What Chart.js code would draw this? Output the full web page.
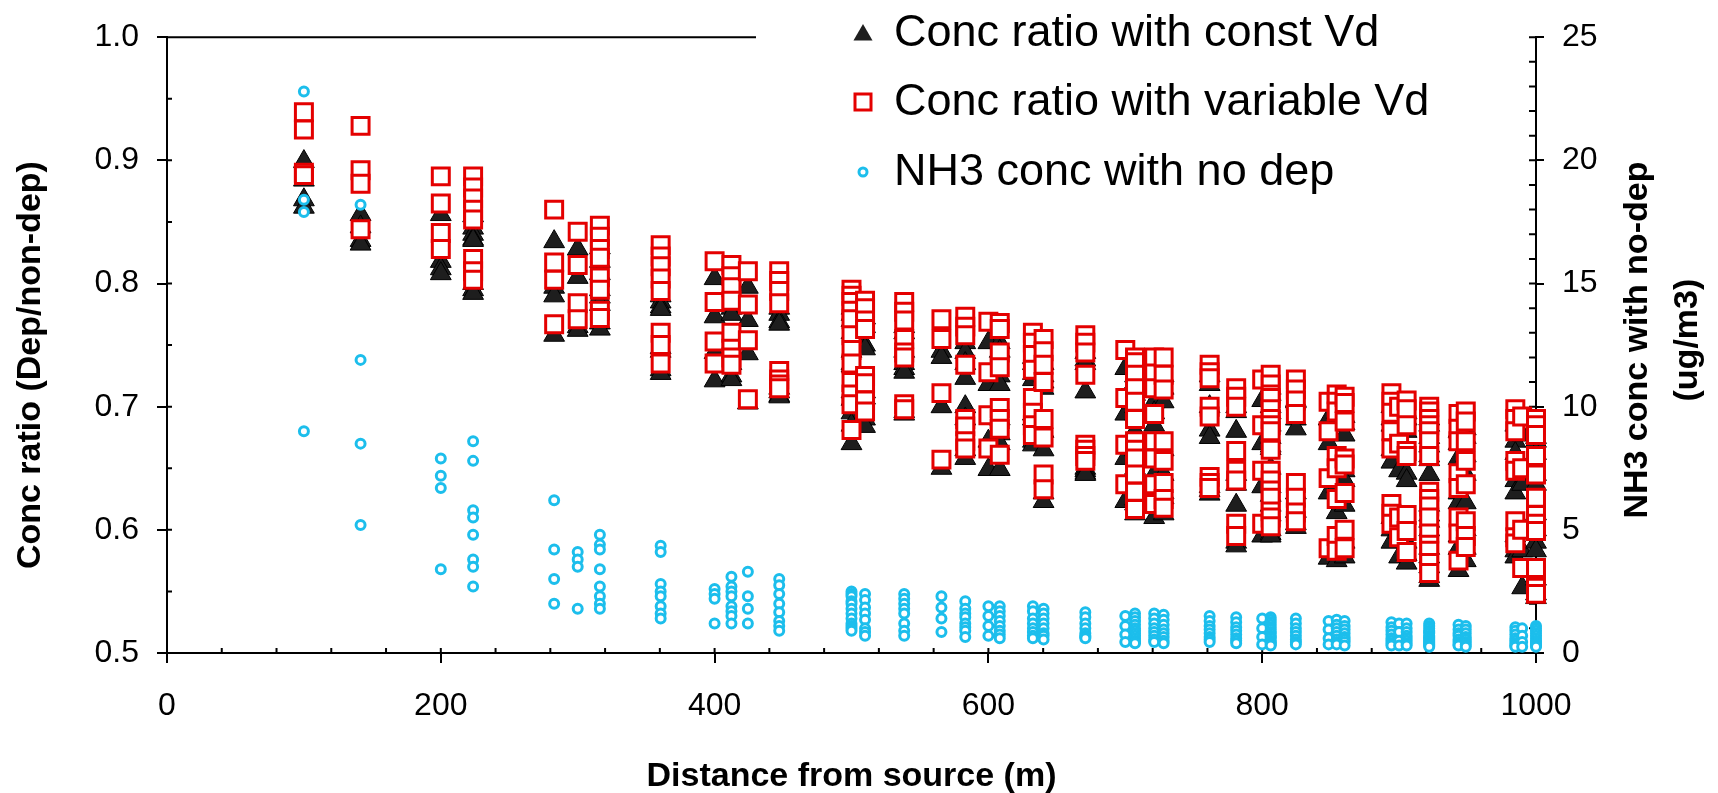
<!DOCTYPE html>
<html>
<head>
<meta charset="utf-8">
<script src="https://cdn.jsdelivr.net/npm/chart.js@4.4.1/dist/chart.umd.min.js"></script>
<style>
  html, body { margin: 0; padding: 0; background: #fff; }
  #wrap { width: 1718px; height: 793px; }
</style>
</head>
<body>
<div id="wrap"><canvas id="myChart" width="1718" height="793"></canvas></div>
<script>
// receptor distances (m), one entry per column of markers
const distances = [100, 141.4, 200, 223.6, 282.8, 300, 316.2, 360.6, 400, 412.3, 424.3, 447.2, 500, 509.9, 538.5, 565.7, 583.1, 600, 608.3, 632.5, 640.3, 670.8, 700, 707.1, 721.1, 728.0, 761.6, 781.0, 800, 806.2, 824.6, 848.5, 854.4, 860.2, 894.4, 900, 905.5, 922.0, 943.4, 948.7, 984.9, 989.9, 1000];

// Conc ratio with const Vd (left axis)
const constVdRatio = [
  [0.899, 0.884, 0.868, 0.862],
  [0.856, 0.846, 0.835, 0.832],
  [0.856, 0.818, 0.812, 0.808],
  [0.855, 0.845, 0.840, 0.836, 0.835, 0.800, 0.795, 0.792],
  [0.834, 0.797, 0.790, 0.758],
  [0.828, 0.805, 0.765, 0.762],
  [0.829, 0.818, 0.808, 0.795, 0.789, 0.783, 0.768, 0.763],
  [0.790, 0.785, 0.781, 0.779, 0.748, 0.745, 0.730, 0.727],
  [0.804, 0.773, 0.744, 0.721],
  [0.790, 0.782, 0.780, 0.775, 0.748, 0.735, 0.725, 0.722],
  [0.797, 0.770, 0.743, 0.703],
  [0.780, 0.775, 0.769, 0.767, 0.715, 0.712, 0.709, 0.708],
  [0.780, 0.775, 0.770, 0.760, 0.745, 0.735, 0.733, 0.712, 0.706, 0.695, 0.685, 0.670],
  [0.772, 0.765, 0.750, 0.747, 0.712, 0.707, 0.690, 0.684],
  [0.765, 0.760, 0.745, 0.735, 0.731, 0.728, 0.696, 0.694],
  [0.745, 0.740, 0.700, 0.650],
  [0.752, 0.744, 0.735, 0.723, 0.700, 0.690, 0.665, 0.658],
  [0.752, 0.718, 0.672, 0.649],
  [0.752, 0.745, 0.725, 0.718, 0.690, 0.678, 0.670, 0.649],
  [0.740, 0.735, 0.727, 0.722, 0.694, 0.690, 0.672, 0.669],
  [0.735, 0.725, 0.720, 0.715, 0.680, 0.665, 0.630, 0.623],
  [0.744, 0.738, 0.735, 0.712, 0.650, 0.648, 0.646, 0.645],
  [0.731, 0.694, 0.658, 0.623],
  [0.725, 0.720, 0.710, 0.700, 0.694, 0.680, 0.665, 0.650, 0.640, 0.625, 0.621, 0.613],
  [0.720, 0.704, 0.695, 0.685, 0.660, 0.645, 0.623, 0.610],
  [0.725, 0.715, 0.704, 0.665, 0.645, 0.630, 0.626, 0.613],
  [0.725, 0.718, 0.700, 0.681, 0.675, 0.635, 0.632, 0.629],
  [0.700, 0.696, 0.680, 0.645, 0.637, 0.620, 0.590, 0.587],
  [0.705, 0.670, 0.635, 0.595],
  [0.715, 0.710, 0.700, 0.695, 0.685, 0.675, 0.668, 0.666, 0.650, 0.635, 0.628, 0.620, 0.612, 0.600, 0.597, 0.595],
  [0.705, 0.704, 0.690, 0.682, 0.630, 0.615, 0.605, 0.602],
  [0.690, 0.670, 0.630, 0.577],
  [0.695, 0.688, 0.685, 0.645, 0.635, 0.614, 0.585, 0.575],
  [0.692, 0.686, 0.677, 0.648, 0.640, 0.620, 0.590, 0.578],
  [0.700, 0.690, 0.685, 0.665, 0.655, 0.610, 0.600, 0.590],
  [0.690, 0.648, 0.598, 0.578],
  [0.695, 0.690, 0.680, 0.646, 0.640, 0.590, 0.580, 0.573],
  [0.690, 0.685, 0.675, 0.668, 0.660, 0.657, 0.645, 0.620, 0.612, 0.607, 0.600, 0.585, 0.578, 0.570, 0.562, 0.559],
  [0.680, 0.670, 0.658, 0.630, 0.622, 0.595, 0.585, 0.567],
  [0.682, 0.675, 0.660, 0.645, 0.622, 0.600, 0.585, 0.575],
  [0.685, 0.672, 0.662, 0.640, 0.630, 0.595, 0.583, 0.578],
  [0.677, 0.637, 0.583, 0.553],
  [0.675, 0.672, 0.662, 0.645, 0.637, 0.613, 0.600, 0.590, 0.583, 0.560, 0.548, 0.545]
];

// Conc ratio with variable Vd (left axis)
const variableVdRatio = [
  [0.939, 0.925, 0.890, 0.888],
  [0.928, 0.892, 0.881, 0.844],
  [0.887, 0.865, 0.841, 0.828],
  [0.887, 0.878, 0.869, 0.860, 0.852, 0.820, 0.810, 0.803],
  [0.860, 0.817, 0.803, 0.767],
  [0.842, 0.815, 0.784, 0.771],
  [0.847, 0.838, 0.828, 0.821, 0.805, 0.795, 0.778, 0.772],
  [0.831, 0.822, 0.814, 0.804, 0.794, 0.760, 0.750, 0.735],
  [0.818, 0.785, 0.753, 0.735],
  [0.815, 0.806, 0.797, 0.786, 0.760, 0.747, 0.740, 0.734],
  [0.810, 0.783, 0.754, 0.706],
  [0.810, 0.802, 0.794, 0.784, 0.729, 0.722, 0.718, 0.715],
  [0.795, 0.790, 0.785, 0.778, 0.771, 0.758, 0.746, 0.735, 0.720, 0.710, 0.702, 0.681],
  [0.786, 0.780, 0.770, 0.763, 0.725, 0.719, 0.705, 0.696],
  [0.785, 0.777, 0.770, 0.755, 0.744, 0.740, 0.702, 0.698],
  [0.771, 0.755, 0.711, 0.657],
  [0.773, 0.765, 0.758, 0.734, 0.690, 0.684, 0.672, 0.666],
  [0.769, 0.728, 0.693, 0.666],
  [0.768, 0.763, 0.744, 0.732, 0.699, 0.690, 0.682, 0.661],
  [0.760, 0.752, 0.742, 0.730, 0.707, 0.695, 0.685, 0.677],
  [0.755, 0.745, 0.734, 0.720, 0.690, 0.675, 0.645, 0.633],
  [0.758, 0.752, 0.744, 0.726, 0.669, 0.665, 0.660, 0.656],
  [0.746, 0.707, 0.669, 0.637],
  [0.740, 0.736, 0.726, 0.715, 0.704, 0.690, 0.672, 0.665, 0.658, 0.645, 0.631, 0.617],
  [0.740, 0.727, 0.715, 0.694, 0.672, 0.658, 0.637, 0.621],
  [0.740, 0.726, 0.714, 0.672, 0.656, 0.638, 0.625, 0.618],
  [0.734, 0.728, 0.723, 0.700, 0.692, 0.643, 0.638, 0.634],
  [0.715, 0.708, 0.700, 0.664, 0.648, 0.640, 0.605, 0.595],
  [0.722, 0.685, 0.648, 0.605],
  [0.726, 0.718, 0.710, 0.707, 0.698, 0.690, 0.685, 0.680, 0.665, 0.648, 0.640, 0.632, 0.626, 0.615, 0.610, 0.603],
  [0.722, 0.714, 0.705, 0.694, 0.638, 0.626, 0.614, 0.607],
  [0.704, 0.680, 0.642, 0.585],
  [0.710, 0.704, 0.696, 0.660, 0.650, 0.625, 0.595, 0.583],
  [0.708, 0.703, 0.688, 0.658, 0.653, 0.630, 0.600, 0.585],
  [0.711, 0.704, 0.695, 0.680, 0.666, 0.621, 0.613, 0.605],
  [0.700, 0.670, 0.610, 0.594],
  [0.705, 0.698, 0.685, 0.664, 0.660, 0.612, 0.599, 0.582],
  [0.700, 0.696, 0.690, 0.685, 0.680, 0.672, 0.660, 0.631, 0.625, 0.619, 0.610, 0.597, 0.588, 0.583, 0.573, 0.565],
  [0.694, 0.682, 0.672, 0.646, 0.634, 0.610, 0.597, 0.575],
  [0.696, 0.688, 0.672, 0.656, 0.637, 0.607, 0.595, 0.586],
  [0.698, 0.690, 0.680, 0.656, 0.648, 0.607, 0.594, 0.589],
  [0.692, 0.650, 0.600, 0.569],
  [0.690, 0.685, 0.677, 0.660, 0.645, 0.626, 0.612, 0.605, 0.599, 0.569, 0.553, 0.548]
];

// NH3 conc with no dep, ug/m3 (right axis)
const nh3NoDep = [
  [22.8, 18.4, 17.9, 9.0],
  [18.2, 11.9, 8.5, 5.2],
  [7.9, 7.2, 6.7, 3.4],
  [8.6, 7.8, 5.8, 5.5, 4.8, 3.8, 3.5, 2.7],
  [6.2, 4.2, 3.0, 2.0],
  [4.1, 3.8, 3.5, 1.8],
  [4.8, 4.4, 4.2, 3.4, 2.7, 2.3, 2.0, 1.8],
  [4.35, 4.1, 2.8, 2.5, 2.3, 1.9, 1.6, 1.4],
  [2.6, 2.4, 2.2, 1.2],
  [3.1, 2.7, 2.5, 2.3, 1.9, 1.7, 1.5, 1.2],
  [3.3, 2.3, 1.8, 1.2],
  [3.0, 2.75, 2.4, 2.0, 1.65, 1.3, 1.1, 0.9],
  [2.5, 2.4, 2.3, 2.1, 2.0, 1.8, 1.6, 1.4, 1.2, 1.1, 1.0, 0.9],
  [2.4, 2.15, 1.85, 1.6, 1.35, 1.0, 0.85, 0.7],
  [2.4, 2.2, 2.0, 1.8, 1.6, 1.2, 0.9, 0.7],
  [2.3, 1.85, 1.4, 0.85],
  [2.1, 1.8, 1.6, 1.45, 1.2, 1.05, 0.9, 0.65],
  [1.9, 1.5, 1.1, 0.7],
  [1.9, 1.7, 1.5, 1.3, 1.1, 0.9, 0.75, 0.6],
  [1.9, 1.7, 1.4, 1.2, 1.0, 0.85, 0.7, 0.6],
  [1.8, 1.6, 1.4, 1.2, 1.0, 0.8, 0.7, 0.55],
  [1.65, 1.45, 1.2, 1.0, 0.8, 0.7, 0.65, 0.6],
  [1.5, 1.1, 0.75, 0.45],
  [1.6, 1.45, 1.3, 1.15, 1.0, 0.9, 0.8, 0.7, 0.6, 0.5, 0.45, 0.4],
  [1.6, 1.4, 1.2, 1.0, 0.85, 0.7, 0.55, 0.45],
  [1.55, 1.35, 1.15, 0.95, 0.8, 0.65, 0.5, 0.4],
  [1.5, 1.3, 1.1, 0.95, 0.8, 0.65, 0.55, 0.45],
  [1.45, 1.25, 1.05, 0.9, 0.75, 0.6, 0.5, 0.4],
  [1.4, 1.0, 0.65, 0.35],
  [1.45, 1.35, 1.25, 1.15, 1.05, 0.95, 0.85, 0.8, 0.7, 0.65, 0.6, 0.5, 0.45, 0.4, 0.35, 0.3],
  [1.4, 1.2, 1.0, 0.85, 0.7, 0.55, 0.45, 0.35],
  [1.3, 0.95, 0.6, 0.35],
  [1.35, 1.15, 1.0, 0.85, 0.7, 0.55, 0.45, 0.35],
  [1.3, 1.1, 0.95, 0.8, 0.65, 0.55, 0.45, 0.3],
  [1.25, 1.05, 0.9, 0.75, 0.6, 0.5, 0.4, 0.3],
  [1.2, 0.85, 0.5, 0.3],
  [1.2, 1.0, 0.85, 0.7, 0.6, 0.5, 0.4, 0.3],
  [1.2, 1.1, 1.0, 0.9, 0.85, 0.8, 0.7, 0.65, 0.6, 0.55, 0.5, 0.45, 0.4, 0.35, 0.3, 0.25],
  [1.15, 0.95, 0.8, 0.7, 0.55, 0.45, 0.35, 0.3],
  [1.1, 0.95, 0.8, 0.65, 0.55, 0.45, 0.35, 0.25],
  [1.05, 0.9, 0.75, 0.6, 0.5, 0.4, 0.3, 0.25],
  [1.0, 0.7, 0.45, 0.25],
  [1.1, 1.0, 0.9, 0.8, 0.7, 0.6, 0.5, 0.45, 0.4, 0.35, 0.3, 0.25]
];

const seriesNames = ["Conc ratio with const Vd", "Conc ratio with variable Vd", "NH3 conc with no dep"];

const FONT = "'Liberation Sans', Arial, sans-serif";
const BLACK = "#1e1e1e";
const RED = "rgb(228, 0, 0)";
const CYAN = "rgb(28, 190, 236)";

function toPoints(cols) {
  const pts = [];
  distances.forEach((d, i) => {
    cols[i].forEach((v) => pts.push({ x: d, y: v }));
  });
  return pts;
}

// small marker shapes for the legend
function drawTriangle(ctx, x, y, r) {
  ctx.beginPath();
  ctx.moveTo(x, y - r);
  ctx.lineTo(x + r * 0.866, y + r / 2);
  ctx.lineTo(x - r * 0.866, y + r / 2);
  ctx.closePath();
  ctx.fillStyle = BLACK;
  ctx.fill();
}
function drawSquare(ctx, x, y, s) {
  ctx.fillStyle = "#fff";
  ctx.fillRect(x - s / 2, y - s / 2, s, s);
  ctx.strokeStyle = RED;
  ctx.lineWidth = 3;
  ctx.strokeRect(x - s / 2, y - s / 2, s, s);
}
function drawCircle(ctx, x, y, r) {
  ctx.beginPath();
  ctx.arc(x, y, r, 0, Math.PI * 2);
  ctx.fillStyle = "#fff";
  ctx.fill();
  ctx.strokeStyle = CYAN;
  ctx.lineWidth = 3;
  ctx.stroke();
}

const extras = {
  id: "extras",
  beforeDatasetsDraw(chart) {
    const ctx = chart.ctx;
    const { x, y, y2 } = chart.scales;
    const a = chart.chartArea;
    ctx.save();
    ctx.strokeStyle = "#000";
    ctx.lineWidth = 2;
    ctx.beginPath();
    // top frame line stops where the legend starts
    ctx.moveTo(a.left, a.top);
    ctx.lineTo(756, a.top);
    // inside ticks
    for (let v = 0; v <= 1000; v += 40) {
      const px = x.getPixelForValue(v);
      ctx.moveTo(px, a.bottom);
      ctx.lineTo(px, a.bottom - 5);
    }
    for (let i = 0; i <= 10; i++) {
      const py = y.getPixelForValue(0.5 + i * 0.05);
      ctx.moveTo(a.left, py);
      ctx.lineTo(a.left + 5, py);
    }
    for (let v = 0; v <= 25; v++) {
      const py = y2.getPixelForValue(v);
      ctx.moveTo(a.right, py);
      ctx.lineTo(a.right - 7, py);
    }
    ctx.stroke();
    ctx.restore();
  },
  afterDraw(chart) {
    const ctx = chart.ctx;
    const a = chart.chartArea;
    const midY = (a.top + a.bottom) / 2;
    ctx.save();
    ctx.fillStyle = "#000";
    ctx.textAlign = "center";
    ctx.textBaseline = "middle";
    ctx.font = "bold 34px " + FONT;

    ctx.fillText("Distance from source (m)", (a.left + a.right) / 2, 777);

    ctx.save();
    ctx.translate(31, midY + 20);
    ctx.rotate(-Math.PI / 2);
    ctx.fillText("Conc ratio (Dep/non-dep)", 0, 0);
    ctx.restore();

    ctx.save();
    ctx.translate(1638, midY - 5);
    ctx.rotate(-Math.PI / 2);
    ctx.fillText("NH3 conc with no-dep", 0, 0);
    ctx.fillText("(ug/m3)", 0, 50);
    ctx.restore();

    // legend
    ctx.font = "45px " + FONT;
    ctx.textAlign = "left";
    const rows = [33, 102, 172];
    drawTriangle(ctx, 863, rows[0] + 2, 11);
    drawSquare(ctx, 863, rows[1], 16);
    drawCircle(ctx, 863, rows[2], 4);
    ctx.fillStyle = "#000";
    seriesNames.forEach((name, i) => ctx.fillText(name, 894, rows[i] + 1));
    ctx.restore();
  }
};

const axisCommon = {
  border: { display: true, color: "#000", width: 2 },
  grid: { display: true, drawOnChartArea: false, drawTicks: true, tickLength: 10, color: "#000", lineWidth: 2 },
  ticks: { color: "#000", font: { family: FONT, size: 32 } }
};

const ctx = document.getElementById("myChart").getContext("2d");
const myChart = new Chart(ctx, {
  type: "scatter",
  data: {
    datasets: [
      {
        label: seriesNames[0],
        data: toPoints(constVdRatio),
        yAxisID: "y",
        order: 3,
        pointStyle: "triangle",
        pointRadius: 12,
        backgroundColor: BLACK,
        borderColor: "#000",
        borderWidth: 1,
        clip: false,
      },
      {
        label: seriesNames[1],
        data: toPoints(variableVdRatio),
        yAxisID: "y",
        order: 2,
        pointStyle: "rect",
        pointRadius: 12,
        backgroundColor: "#fff",
        borderColor: RED,
        borderWidth: 3,
        clip: false,
      },
      {
        label: seriesNames[2],
        data: toPoints(nh3NoDep),
        yAxisID: "y2",
        order: 1,
        pointStyle: "circle",
        pointRadius: 4.5,
        backgroundColor: "#fff",
        borderColor: CYAN,
        borderWidth: 3,
        clip: false,
      },
    ],
  },
  options: {
    responsive: false,
    devicePixelRatio: 1,
    animation: false,
    events: [],
    layout: { padding: { top: 33, left: 0, right: 0, bottom: 0 } },
    plugins: { legend: { display: false }, tooltip: { enabled: false } },
    scales: {
      x: {
        ...axisCommon,
        type: "linear",
        min: 0,
        max: 1000,
        ticks: { ...axisCommon.ticks, stepSize: 200, padding: 24, maxRotation: 0, callback: (v) => String(v) },
        afterFit: (s) => { s.height = 140; },
      },
      y: {
        ...axisCommon,
        position: "left",
        min: 0.5,
        max: 1.0,
        ticks: { ...axisCommon.ticks, stepSize: 0.1, padding: 18, callback: (v) => v.toFixed(1) },
        afterFit: (s) => { s.width = 167; },
      },
      y2: {
        ...axisCommon,
        position: "right",
        min: 0,
        max: 25,
        grid: { ...axisCommon.grid, tickLength: 8 },
        ticks: { ...axisCommon.ticks, stepSize: 5, padding: 18 },
        afterFit: (s) => { s.width = 182; },
      },
    },
  },
  plugins: [extras],
});
</script>
</body>
</html>
